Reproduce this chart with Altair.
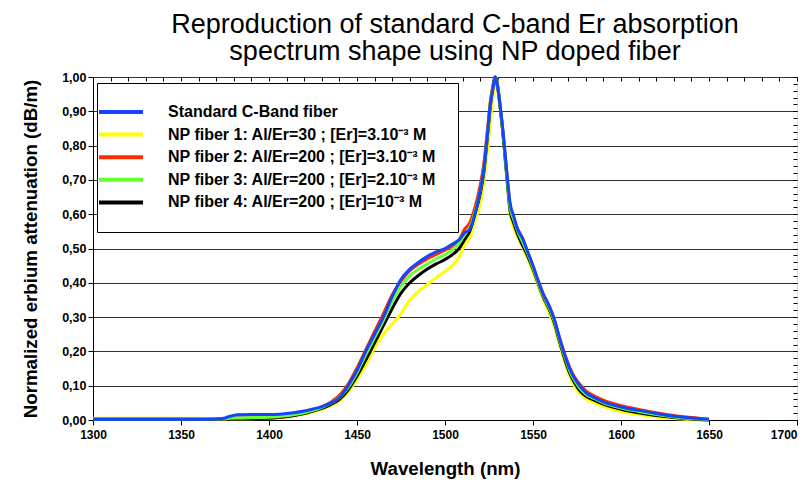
import altair as alt
import pandas as pd

wavelength = [1300, 1320, 1340, 1360, 1370, 1375, 1378, 1382, 1390, 1400, 1406, 1414, 1420, 1425,
              1430, 1435, 1440, 1445, 1450, 1455, 1460, 1465, 1470, 1475, 1480, 1485, 1490, 1495,
              1500, 1505, 1508, 1511, 1514, 1517, 1520, 1522, 1524, 1526, 1527, 1528, 1528.5, 1529,
              1530, 1531, 1533, 1535, 1537, 1539, 1541, 1544, 1547, 1550, 1553, 1556, 1559, 1562,
              1565, 1568, 1571, 1574, 1577, 1580, 1585, 1590, 1600, 1610, 1620, 1630, 1640, 1650]

standard = [0.002, 0.002, 0.002, 0.002, 0.003, 0.006, 0.011, 0.015, 0.016, 0.016, 0.017, 0.021, 0.026, 0.032,
            0.039, 0.049, 0.065, 0.100, 0.145, 0.200, 0.250, 0.300, 0.360, 0.410, 0.440, 0.460, 0.477, 0.490,
            0.500, 0.515, 0.525, 0.545, 0.556, 0.600, 0.670, 0.730, 0.830, 0.930, 0.960, 0.990, 1.000, 0.995,
            0.970, 0.930, 0.840, 0.730, 0.632, 0.595, 0.560, 0.530, 0.490, 0.450, 0.405, 0.365, 0.335, 0.295,
            0.240, 0.190, 0.148, 0.118, 0.097, 0.080, 0.065, 0.053, 0.038, 0.028, 0.019, 0.011, 0.006, 0.002]

np_fiber1 = [0.005, 0.005, 0.005, 0.005, 0.004, 0.004, 0.004, 0.004, 0.004, 0.005, 0.007, 0.012, 0.018, 0.024,
             0.032, 0.042, 0.055, 0.082, 0.118, 0.160, 0.210, 0.250, 0.280, 0.310, 0.350, 0.375, 0.395, 0.415,
             0.433, 0.455, 0.475, 0.510, 0.530, 0.580, 0.630, 0.690, 0.780, 0.880, 0.930, 0.970, 0.990, 1.000,
             0.980, 0.930, 0.830, 0.710, 0.600, 0.560, 0.535, 0.505, 0.470, 0.430, 0.390, 0.350, 0.315, 0.275,
             0.220, 0.170, 0.125, 0.095, 0.075, 0.062, 0.050, 0.040, 0.025, 0.016, 0.009, 0.004, 0.001, 0.000]

np_fiber2 = [0.002, 0.002, 0.002, 0.002, 0.002, 0.003, 0.005, 0.005, 0.005, 0.005, 0.007, 0.013, 0.020, 0.028,
             0.038, 0.052, 0.072, 0.105, 0.152, 0.205, 0.258, 0.310, 0.365, 0.405, 0.435, 0.455, 0.470, 0.483,
             0.495, 0.510, 0.525, 0.555, 0.575, 0.620, 0.685, 0.745, 0.840, 0.940, 0.970, 0.995, 1.000, 0.990,
             0.965, 0.925, 0.835, 0.725, 0.625, 0.590, 0.560, 0.530, 0.490, 0.450, 0.405, 0.365, 0.335, 0.295,
             0.242, 0.193, 0.152, 0.122, 0.102, 0.085, 0.070, 0.058, 0.042, 0.031, 0.021, 0.013, 0.007, 0.002]

np_fiber3 = [0.003, 0.003, 0.003, 0.003, 0.003, 0.004, 0.005, 0.006, 0.007, 0.008, 0.010, 0.015, 0.021, 0.028,
             0.037, 0.048, 0.065, 0.095, 0.138, 0.190, 0.240, 0.290, 0.345, 0.390, 0.420, 0.440, 0.455, 0.470,
             0.482, 0.500, 0.515, 0.540, 0.560, 0.605, 0.670, 0.730, 0.830, 0.930, 0.965, 0.990, 1.000, 0.995,
             0.970, 0.930, 0.835, 0.720, 0.620, 0.585, 0.555, 0.520, 0.485, 0.445, 0.400, 0.360, 0.330, 0.290,
             0.235, 0.185, 0.142, 0.112, 0.090, 0.075, 0.062, 0.050, 0.035, 0.025, 0.016, 0.009, 0.004, 0.001]

np_fiber4 = [0.002, 0.002, 0.002, 0.002, 0.002, 0.004, 0.004, 0.005, 0.005, 0.006, 0.008, 0.013, 0.019, 0.026,
             0.034, 0.045, 0.060, 0.088, 0.128, 0.175, 0.225, 0.275, 0.325, 0.370, 0.400, 0.422, 0.440, 0.455,
             0.468, 0.485, 0.500, 0.525, 0.550, 0.600, 0.660, 0.720, 0.820, 0.925, 0.960, 0.990, 1.000, 0.995,
             0.970, 0.930, 0.830, 0.715, 0.610, 0.575, 0.545, 0.510, 0.478, 0.440, 0.397, 0.357, 0.325, 0.285,
             0.230, 0.178, 0.135, 0.105, 0.083, 0.070, 0.057, 0.046, 0.031, 0.021, 0.013, 0.007, 0.003, 0.000]

series_names = [
    "Standard C-Band fiber",
    "NP fiber 1: Al/Er=30 ; [Er]=3.10\u207b\u00b3 M",
    "NP fiber 2: Al/Er=200 ; [Er]=3.10\u207b\u00b3 M",
    "NP fiber 3: Al/Er=200 ; [Er]=2.10\u207b\u00b3 M",
    "NP fiber 4: Al/Er=200 ; [Er]=10\u207b\u00b3 M",
]
series_colors = ["#1544ff", "#ffff00", "#ff2d00", "#66ff33", "#000000"]
series_values = [standard, np_fiber1, np_fiber2, np_fiber3, np_fiber4]
draw_order = [1, 2, 4, 3, 0]

x_ticks = [1300, 1350, 1400, 1450, 1500, 1550, 1600, 1650, 1700]
y_ticks = [0.0, 0.1, 0.2, 0.3, 0.4, 0.5, 0.6, 0.7, 0.8, 0.9, 1.0]
x_minor = list(range(1300, 1701, 10))
y_minor = [round(i * 0.02, 2) for i in range(51)]

rows = []
for name, vals in zip(series_names, series_values):
    for w, v in zip(wavelength, vals):
        rows.append({"wl": w, "att": v, "series": name})
df = pd.DataFrame(rows)

FONT = "Liberation Sans"
x_scale = alt.Scale(domain=[1300, 1700], nice=False, zero=False)
y_scale = alt.Scale(domain=[0, 1], nice=False, zero=False)

main_x_axis = alt.Axis(values=x_ticks, title="Wavelength (nm)", grid=False, tickSize=5,
                       format="d",
                       labelAlign=alt.condition("datum.value == 1700", alt.value("right"), alt.value("center")),
                       labelFont=FONT, labelFontWeight="bold", labelFontSize=12, labelColor="black",
                       labelPadding=4, titleFont=FONT, titleFontWeight="bold", titleFontSize=18.7,
                       titleColor="black", titlePadding=19, domainColor="black", tickColor="black",
                       labelOverlap=False, labelFlush=False)
main_y_axis = alt.Axis(values=y_ticks, title="Normalized erbium attenuation (dB/m)", grid=True,
                       gridColor="#333333", gridWidth=1, gridOpacity=1, tickSize=5,
                       labelExpr="replace(format(datum.value, '.2f'), '.', ',')",
                       labelFont=FONT, labelFontWeight="bold", labelFontSize=12.5, labelColor="black",
                       labelPadding=2, titleFont=FONT, titleFontWeight="bold", titleFontSize=18.7,
                       titleColor="black", titlePadding=21, domainColor="black", tickColor="black",
                       labelOverlap=False, labelFlush=False)
minor_x_axis = alt.Axis(values=x_minor, labels=False, domain=False, grid=False, ticks=True,
                        tickSize=4, offset=-4, tickColor="black", title=None)
minor_y_axis = alt.Axis(values=y_minor, labels=False, domain=False, grid=False, ticks=True,
                        tickSize=4, offset=-4, tickColor="black", title=None)

legend = alt.Legend(title=None, orient="none", legendX=4, legendY=6, fillColor="white",
                    strokeColor="black", padding=21, symbolType="M-4,0H4", symbolSize=121,
                    symbolStrokeWidth=4, symbolOffset=-5, labelOffset=39, labelFont=FONT,
                    labelFontWeight="bold", labelFontSize=16, labelColor="black", rowPadding=6.6,
                    labelLimit=400)
color = alt.Color("series:N", scale=alt.Scale(domain=series_names, range=series_colors),
                  legend=legend)

layers = []
for k, i in enumerate(draw_order):
    first = k == 0
    layers.append(
        alt.Chart(df)
        .transform_filter(alt.datum.series == series_names[i])
        .mark_line(strokeWidth=3, interpolate="monotone")
        .encode(
            x=alt.X("wl:Q", scale=x_scale, axis=main_x_axis if first else None),
            y=alt.Y("att:Q", scale=y_scale, axis=main_y_axis if first else None),
            color=color,
        )
    )

minor_x_df = pd.DataFrame({"v": x_minor})
minor_y_df = pd.DataFrame({"v": y_minor})
layers.append(
    alt.Chart(minor_x_df).mark_point(opacity=0).encode(
        x=alt.X("v:Q", scale=x_scale, axis=minor_x_axis), y=alt.value(0))
)
layers.append(
    alt.Chart(minor_y_df).mark_point(opacity=0).encode(
        y=alt.Y("v:Q", scale=y_scale, axis=minor_y_axis), x=alt.value(0))
)

chart = (
    alt.layer(*layers)
    .resolve_axis(x="independent", y="independent")
    .properties(
        width=704,
        height=343,
        padding={"left": 85, "top": 69, "right": 5, "bottom": 60},
        autosize=alt.AutoSizeParams(type="none"),
        title=alt.TitleParams(
            text=["Reproduction of standard C-band Er absorption",
                  "spectrum shape using NP doped fiber"],
            font=FONT, fontSize=27, fontWeight="normal", color="black", lineHeight=27,
            anchor="middle", dx=10, offset=5,
        ),
    )
    .configure_view(fill="#f9ecd3", stroke=None)
    .configure(background="white")
)

chart.save("out.html", embed_options={"renderer": "svg", "actions": False})
